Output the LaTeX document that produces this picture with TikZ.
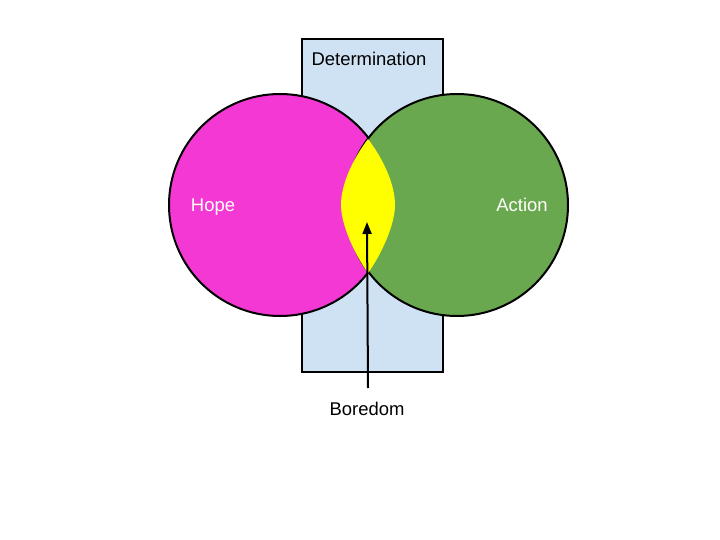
\documentclass[tikz,border=0pt]{standalone}
\usepackage{fontspec}
\setmainfont{Liberation Sans}
\usetikzlibrary{arrows.meta, positioning}
\definecolor{myblue}{RGB}{207,226,243}
\definecolor{mypink}{RGB}{244,56,211}
\definecolor{mygreen}{RGB}{106,168,79}
\definecolor{myyellow}{RGB}{255,255,0}
\tikzset{
  outline/.style={draw=black, line width=2bp},
  label/.style={font=\fontsize{18.5}{22}\selectfont, inner sep=0pt, anchor=base},
  whitelabel/.style={label, text=white},
  pointer/.style={-{Triangle[length=12bp, width=9bp]}, line width=2bp, color=black}
}

\begin{document}
\begin{tikzpicture}[x=1bp, y=-1bp]
  \useasboundingbox (0,0) rectangle (720,540);

  % Determination box
  \draw[outline, fill=myblue] (302,39) rectangle (443,372);
  \node[label] (determination) at (369,66) {Determination};

  % Hope and Action circles
  \draw[outline, fill=mypink] (280,205) circle (111);
  \draw[outline, fill=mygreen] (457,205) circle (111);

  % Boredom overlap
  \fill[myyellow] (368,139) .. controls (352,160) and (341,185) .. (341,205)
    .. controls (341,225) and (355,255) .. (368,273)
    .. controls (381,255) and (395,225) .. (395,205)
    .. controls (395,185) and (384,160) .. cycle;

  \node[whitelabel] (hope) at (213,212) {Hope};
  \node[whitelabel] (action) at (522,212) {Action};

  % Boredom pointer
  \node[label] (boredom) at (367,415) {Boredom};
  \coordinate (tail) at (368,388);
  \coordinate (tip) at (367,222);
  \draw[pointer] (tail) -- (tip);
\end{tikzpicture}
\end{document}
